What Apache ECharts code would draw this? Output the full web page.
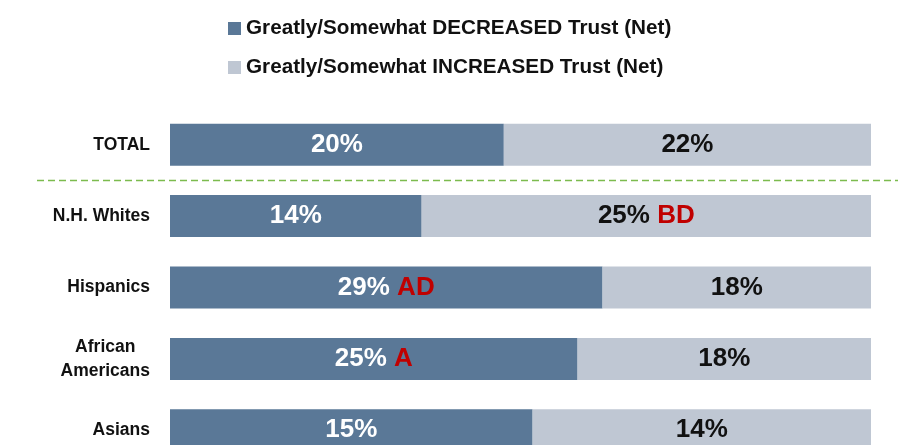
<!DOCTYPE html>
<html>
<head>
<meta charset="utf-8">
<title>Trust change by group</title>
<script src="https://cdn.jsdelivr.net/npm/echarts@6/dist/echarts.min.js"></script>
<style>
  html, body { margin: 0; padding: 0; background: #fff; }
  #chart { width: 900px; height: 445px; }
</style>
</head>
<body>
<div id="chart"></div>
<script>
  // groups, top to bottom
  var groups = ['TOTAL', 'N.H. Whites', 'Hispanics', 'African Americans', 'Asians'];
  // net % who said trust decreased / increased
  var decreased = [20, 14, 29, 25, 15];
  var increased = [22, 25, 18, 18, 14];
  // significance letters printed after the value
  var decSig = ['', '', 'AD', 'A', ''];
  var incSig = ['', 'BD', '', '', ''];
  var seriesNames = ['Greatly/Somewhat DECREASED Trust (Net)', 'Greatly/Somewhat INCREASED Trust (Net)'];

  var font = "'Liberation Sans', Arial, sans-serif";
  var darkBlue = '#5a7897';
  var lightGrey = '#bfc7d3';

  // bars fill the whole width: each side is its share of dec + inc
  var decShare = decreased.map(function (v, i) { return v / (v + increased[i]) * 100; });
  var incShare = increased.map(function (v, i) { return v / (decreased[i] + v) * 100; });

  function labelFmt(raw, sig) {
    return function (p) {
      var i = p.dataIndex;
      if (sig[i]) return '{v|' + raw[i] + '% }{s|' + sig[i] + '}';
      return '{v|' + raw[i] + '%}';
    };
  }

  var myChart = echarts.init(document.getElementById('chart'));
  var option = {
    animation: false,
    textStyle: { fontFamily: font },
    legend: {
      orient: 'vertical',
      left: 223,
      top: 13,
      itemWidth: 13,
      itemHeight: 13,
      itemGap: 18,
      icon: 'rect',
      selectedMode: false,
      textStyle: {
        fontFamily: font,
        fontSize: 20.7,
        lineHeight: 20,
        fontWeight: 'bold',
        color: '#111'
      },
      data: seriesNames
    },
    grid: {
      left: 170,
      right: 29,
      top: 109,
      bottom: -21,
      outerBoundsMode: 'none',
      containLabel: false
    },
    xAxis: {
      type: 'value',
      min: 0,
      max: 100,
      show: false
    },
    yAxis: {
      type: 'category',
      inverse: true,
      data: groups,
      axisLine: { show: false },
      axisTick: { show: false },
      axisLabel: {
        margin: 20,
        fontFamily: font,
        fontSize: 17.5,
        fontWeight: 'bold',
        color: '#111',
        lineHeight: 24,
        formatter: function (name) {
          var parts = name.split(' ');
          if (name === 'African Americans') {
            return '{c|' + parts[0] + '}\n{c|' + parts[1] + '}';
          }
          return name;
        },
        rich: {
          c: {
            align: 'center',
            fontFamily: font,
            fontSize: 17.5,
            fontWeight: 'bold',
            color: '#111',
            lineHeight: 24
          }
        }
      }
    },
    series: [
      {
        name: seriesNames[0],
        type: 'bar',
        stack: 'trust',
        barWidth: 42,
        itemStyle: { color: darkBlue },
        label: {
          show: true,
          position: 'inside',
          formatter: labelFmt(decreased, decSig),
          rich: {
            v: { fontFamily: font, fontSize: 26, fontWeight: 'bold', color: '#fff' },
            s: { fontFamily: font, fontSize: 26, fontWeight: 'bold', color: '#c00000' }
          }
        },
        data: decShare
      },
      {
        name: seriesNames[1],
        type: 'bar',
        stack: 'trust',
        barWidth: 42,
        itemStyle: { color: lightGrey },
        label: {
          show: true,
          position: 'inside',
          formatter: labelFmt(increased, incSig),
          rich: {
            v: { fontFamily: font, fontSize: 26, fontWeight: 'bold', color: '#111' },
            s: { fontFamily: font, fontSize: 26, fontWeight: 'bold', color: '#c00000' }
          }
        },
        data: incShare
      }
    ]
  };
  myChart.setOption(option);

  // dashed divider between TOTAL and the subgroups
  var y0 = myChart.convertToPixel({ yAxisIndex: 0 }, groups[0]);
  var y1 = myChart.convertToPixel({ yAxisIndex: 0 }, groups[1]);
  var yDiv = Math.round((y0 + y1) / 2) + 0.5;
  myChart.setOption({
    graphic: [{
      type: 'line',
      shape: { x1: 37, y1: yDiv, x2: 898, y2: yDiv },
      style: { stroke: '#7cbb4e', lineWidth: 1.5, lineDash: [7, 4] },
      silent: true
    }]
  });
</script>
</body>
</html>
